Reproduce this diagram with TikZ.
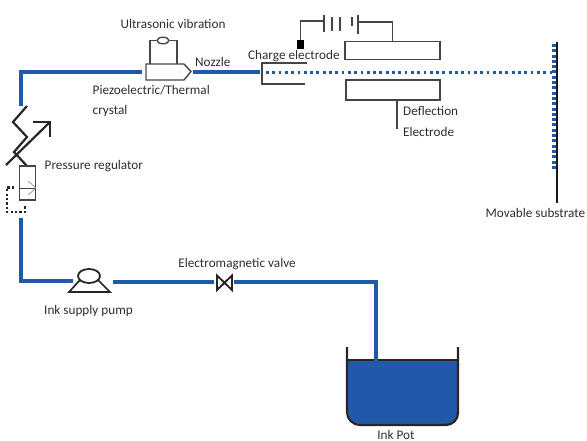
\documentclass[tikz,border=0pt]{standalone}
\usepackage{fontspec}
\setmainfont{Carlito}
\usetikzlibrary{shapes.geometric}
\definecolor{inkblue}{HTML}{2159A8}
\definecolor{sym}{HTML}{454545}
\definecolor{txt}{HTML}{2E2E2E}
\tikzset{
  lab/.style={font=\fontsize{13.2pt}{15pt}\selectfont,text=txt,inner sep=0pt},
  pipe/.style={draw=inkblue,line width=3.4pt,line join=miter},
  jet/.style={draw=inkblue,line width=3pt,dash pattern=on 2.8pt off 3.5pt},
  symb/.style={draw=sym,line width=1.4pt},
  heavy/.style={draw=black!85,line width=2.2pt},
  plate/.style={draw=sym,line width=1.4pt,fill=white,inner sep=0pt,rectangle}
}
\begin{document}
\begin{tikzpicture}[x=1pt,y=-1pt]
\useasboundingbox (0,0) rectangle (587,441);
% named points
\coordinate (zigtop) at (21,106);
\coordinate (corner1) at (21,72);
\coordinate (nozzlein) at (142,72);
\coordinate (nozzleout) at (193,72);
\coordinate (chargein) at (260,72);
\coordinate (jetstart) at (266,72.5);
\coordinate (jetend) at (553,72.5);
\coordinate (regout) at (21,218);
\coordinate (corner2) at (21,281);
\coordinate (pumpin) at (73,281);
\coordinate (pumpout) at (113,282);
\coordinate (valvein) at (214,282);
\coordinate (valveout) at (234,282);
\coordinate (corner3) at (376,282);
\coordinate (potin) at (376,361);
% ink pot
\fill[inkblue] (348,360) -- (458,360) -- (458,413) arc[start angle=0,end angle=90,radius=11] -- (360,424) arc[start angle=90,end angle=180,radius=12] -- cycle;
\draw[line width=1.6pt,draw=black!85] (347,360) -- (458,360);
\draw[heavy] (347,347) -- (347,412) arc[start angle=180,end angle=90,radius=13] -- (446,425) arc[start angle=90,end angle=0,radius=12] -- (458,347);
% pipes
\draw[pipe] (zigtop) -- (corner1) -- (nozzlein);
\draw[pipe] (nozzleout) -- (chargein);
\draw[pipe] (regout) -- (corner2) -- (pumpin);
\draw[pipe] (pumpout) -- (valvein);
\draw[pipe] (valveout) -- (corner3) -- (potin);
\draw[jet] (jetstart) -- (jetend);
% substrate
\draw[line width=1.6pt,draw=black!90] (556.8,42) -- (556.8,203);
\draw[draw=inkblue,line width=4.2pt,dash pattern=on 3pt off 2.3pt] (554,44) -- (554,171);
% nozzle and ultrasonic
\draw[symb] (146,64) -- (184,64) -- (191,71.5) -- (184,80) -- (146,80) -- cycle;
\node[ellipse,draw=sym,line width=1.4pt,minimum width=12pt,minimum height=6.5pt,inner sep=0pt] (osc) at (163,40.5) {};
\draw[symb] (150,64) |- (osc.west);
\draw[symb] (177,64) |- (osc.east);
% charge electrode
\draw[symb] (307,63) -- (262,63) -- (262,84) -- (305,84);
% battery
\node[fill=black,minimum width=7.5pt,minimum height=9pt,inner sep=0pt] (chg) at (300.5,45) {};
\node[plate,minimum width=95pt,minimum height=18.5pt] (upper) at (392.5,50.5) {};
\node[plate,minimum width=94pt,minimum height=20pt] (lower) at (393,90) {};
\coordinate (batL) at (324,21);
\coordinate (batR) at (358,22);
\draw[symb] (chg.north) |- (batL);
\draw[symb] (batR) -| (upper.north);
\draw[symb] (324,15) -- (324,32);
\draw[symb] (332,17) -- (332,31);
\draw[symb] (340,17) -- (340,31);
\draw[symb] (352,17) -- (352,26);
\draw[symb] (358,15) -- (358,34);
\coordinate (lowstem) at (397,129);
\draw[symb] (lower.south -| lowstem) -- (lowstem);
% regulator
\draw[heavy] (27,106) -- (13,122) -- (27,137) -- (14,152) -- (27,166);
\draw[heavy] (6,165) -- (50,122);
\draw[heavy] (33,122) -- (50,122) -- (50,137);
\node[plate,fill=none,minimum width=15.5pt,minimum height=34pt] (reg) at (27.5,183) {};
\draw[line width=.8pt,draw=sym] (reg.west |- 0,188) -- (reg.east |- 0,188);
\draw[line width=.6pt,draw=gray] (28,181) -- (36,188) -- (28,195);
\draw[draw=black!85,line width=2.4pt,dash pattern=on 2.2pt off 2.2pt] (14,187.5) -- (7,187.5) -- (7,212) -- (25,212) -- (25,205);
% pump
\node[ellipse,draw=black!85,line width=1.8pt,minimum width=22pt,minimum height=14pt,inner sep=0pt] (pump) at (89,276) {};
\draw[line width=1.7pt,draw=black!85] (80,280) -- (69,292) -- (110,292) -- (98,280);
% valve
\draw[line width=1.9pt,draw=black!85] (217,275.5) -- (232,290) -- (232,275.5) -- (217,290) -- cycle;
% labels
\node[lab,anchor=center] (t1) at (173,24) {Ultrasonic vibration};
\node[lab,anchor=west] (t2) at (195,62) {Nozzle};
\node[lab,anchor=west] (t3) at (92.5,90.5) {Piezoelectric/Thermal};
\node[lab,anchor=west] (t4) at (92.5,110.5) {crystal};
\node[lab,anchor=west] (t5) at (44.5,166) {Pressure regulator};
\node[lab,anchor=west] (t6) at (248,56.5) {Charge electrode};
\node[lab,anchor=west] (t7) at (403,111) {Deflection};
\node[lab,anchor=west] (t8) at (403,132) {Electrode};
\node[lab,anchor=west] (t9) at (485.5,212.5) {Movable substrate};
\node[lab,anchor=center] (t10) at (88.5,310.5) {Ink supply pump};
\node[lab,anchor=center] (t11) at (237,264) {Electromagnetic valve};
\node[lab,anchor=center] (t12) at (396,434.5) {Ink Pot};
\end{tikzpicture}
\end{document}
